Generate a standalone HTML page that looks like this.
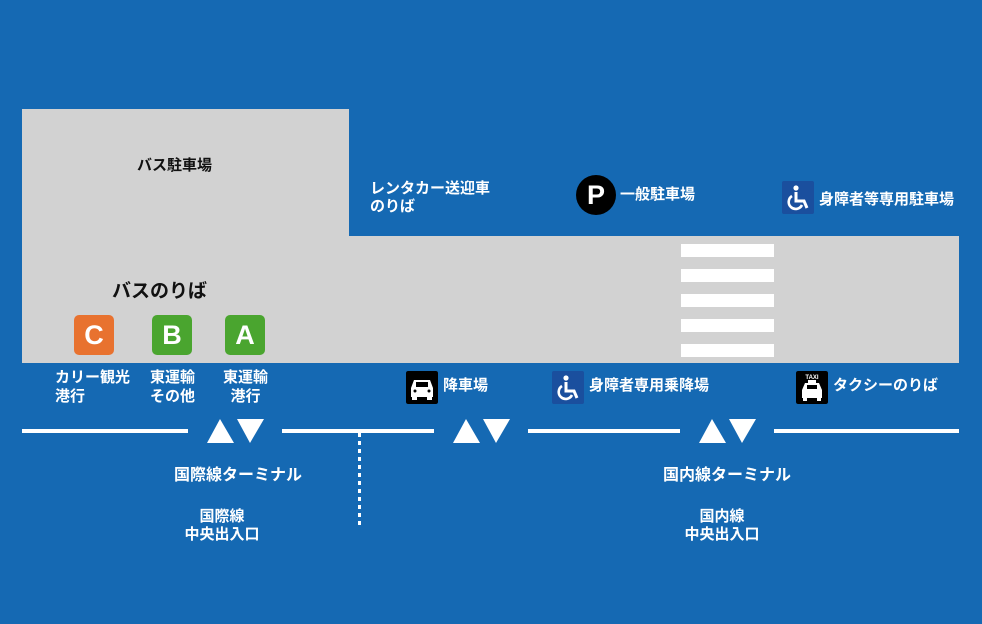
<!DOCTYPE html>
<html><head><meta charset="utf-8"><style>
*{margin:0;padding:0;box-sizing:border-box}
body{width:982px;height:624px;background:#1569b3;position:relative;overflow:hidden;font-family:"Liberation Sans","Noto Sans CJK JP",sans-serif;font-weight:bold;color:#fff}
.a{position:absolute}
.g{background:#d2d2d2}
.t{position:absolute;font-size:15px;line-height:18px;white-space:nowrap}
.st{position:absolute;left:681px;width:93px;height:13px;background:#fff}
.ln{position:absolute;top:429px;height:4px;background:#fff}
.bx{position:absolute;width:40px;height:40px;border-radius:5px;color:#fff;font-size:27px;line-height:40px;text-align:center;font-family:"Liberation Sans",sans-serif;font-weight:bold}
.ic{position:absolute;width:32px;height:33px;border-radius:2px}
</style></head><body>
<div class="a g" style="left:22px;top:109px;width:327px;height:254px"></div>
<div class="a g" style="left:22px;top:236px;width:937px;height:127px"></div>
<div class="st" style="top:244px"></div><div class="st" style="top:269px"></div><div class="st" style="top:294px"></div><div class="st" style="top:319px"></div><div class="st" style="top:344px"></div>

<div class="t" style="left:137px;top:157px;color:#111">バス駐車場</div>
<div class="t" style="left:112px;top:282px;font-size:19px;line-height:20px;color:#111">バスのりば</div>
<div class="bx" style="left:74px;top:315px;background:#e8722f">C</div>
<div class="bx" style="left:152px;top:315px;background:#4aa52f">B</div>
<div class="bx" style="left:225px;top:315px;background:#4aa52f">A</div>

<div class="t" style="left:370px;top:180px">レンタカー送迎車<br>のりば</div>
<div class="a" style="left:576px;top:175px;width:40px;height:40px;border-radius:50%;background:#000;font-size:27px;line-height:40px;text-align:center;font-family:'Liberation Sans',sans-serif">P</div>
<div class="t" style="left:620px;top:186px">一般駐車場</div>

<svg class="ic" style="left:782px;top:181px" viewBox="0 0 32 33"><rect width="32" height="33" fill="#1a4f9e"/><circle cx="14" cy="7" r="2.6" fill="#fff"/><path d="M14 11v9h8l3 7" stroke="#fff" stroke-width="3" fill="none"/><path d="M10 15a7 7 0 1 0 10 9" stroke="#fff" stroke-width="2.6" fill="none"/></svg>
<div class="t" style="left:819px;top:191px">身障者等専用駐車場</div>

<div class="t" style="left:55px;top:368px;line-height:19px">カリー観光<br>港行</div>
<div class="t" style="left:150px;top:368px;line-height:19px;text-align:center">東運輸<br>その他</div>
<div class="t" style="left:223px;top:368px;line-height:19px;text-align:center">東運輸<br>港行</div>

<svg class="ic" style="left:406px;top:371px" viewBox="0 0 32 33"><rect width="32" height="33" rx="2" fill="#000"/><path d="M8 9h16l3 8v9H5v-9z" fill="#fff"/><rect x="10" y="11" width="12" height="5" fill="#000"/><rect x="6" y="26" width="5" height="3" fill="#fff"/><rect x="21" y="26" width="5" height="3" fill="#fff"/><circle cx="9" cy="20" r="1.5" fill="#000"/><circle cx="23" cy="20" r="1.5" fill="#000"/></svg>
<div class="t" style="left:443px;top:377px">降車場</div>

<svg class="ic" style="left:552px;top:371px" viewBox="0 0 32 33"><rect width="32" height="33" fill="#1a4f9e"/><circle cx="14" cy="7" r="2.6" fill="#fff"/><path d="M14 11v9h8l3 7" stroke="#fff" stroke-width="3" fill="none"/><path d="M10 15a7 7 0 1 0 10 9" stroke="#fff" stroke-width="2.6" fill="none"/></svg>
<div class="t" style="left:589px;top:377px">身障者専用乗降場</div>

<svg class="ic" style="left:796px;top:371px" viewBox="0 0 32 33"><rect width="32" height="33" rx="2" fill="#000"/><text x="16" y="8" font-size="6" fill="#fff" text-anchor="middle" font-family="Liberation Sans" font-weight="bold">TAXI</text><rect x="12" y="9" width="8" height="3" fill="#fff"/><path d="M9 12h14l3 7v8H6v-8z" fill="#fff"/><rect x="11" y="14" width="10" height="4" fill="#000"/><rect x="7" y="27" width="4" height="3" fill="#fff"/><rect x="21" y="27" width="4" height="3" fill="#fff"/></svg>
<div class="t" style="left:833px;top:377px">タクシーのりば</div>

<div class="ln" style="left:22px;width:166px"></div>
<div class="ln" style="left:282px;width:152px"></div>
<div class="ln" style="left:528px;width:152px"></div>
<div class="ln" style="left:774px;width:185px"></div>
<svg class="a" style="left:0;top:0" width="982" height="624">
<g fill="#fff">
<polygon points="207,443 220,419 234,443"/><polygon points="237,419 264,419 250,443"/>
<polygon points="453,443 466,419 480,443"/><polygon points="483,419 510,419 496,443"/>
<polygon points="699,443 712,419 726,443"/><polygon points="729,419 756,419 742,443"/>
</g>
<line x1="359.5" y1="433" x2="359.5" y2="526" stroke="#fff" stroke-width="3" stroke-dasharray="4,4"/>
</svg>

<div class="t" style="left:174px;top:467px;font-size:16px">国際線ターミナル</div>
<div class="t" style="left:182px;top:508px;width:80px;text-align:center;line-height:18px">国際線<br>中央出入口</div>
<div class="t" style="left:663px;top:467px;font-size:16px">国内線ターミナル</div>
<div class="t" style="left:682px;top:508px;width:80px;text-align:center;line-height:18px">国内線<br>中央出入口</div>
</body></html>
